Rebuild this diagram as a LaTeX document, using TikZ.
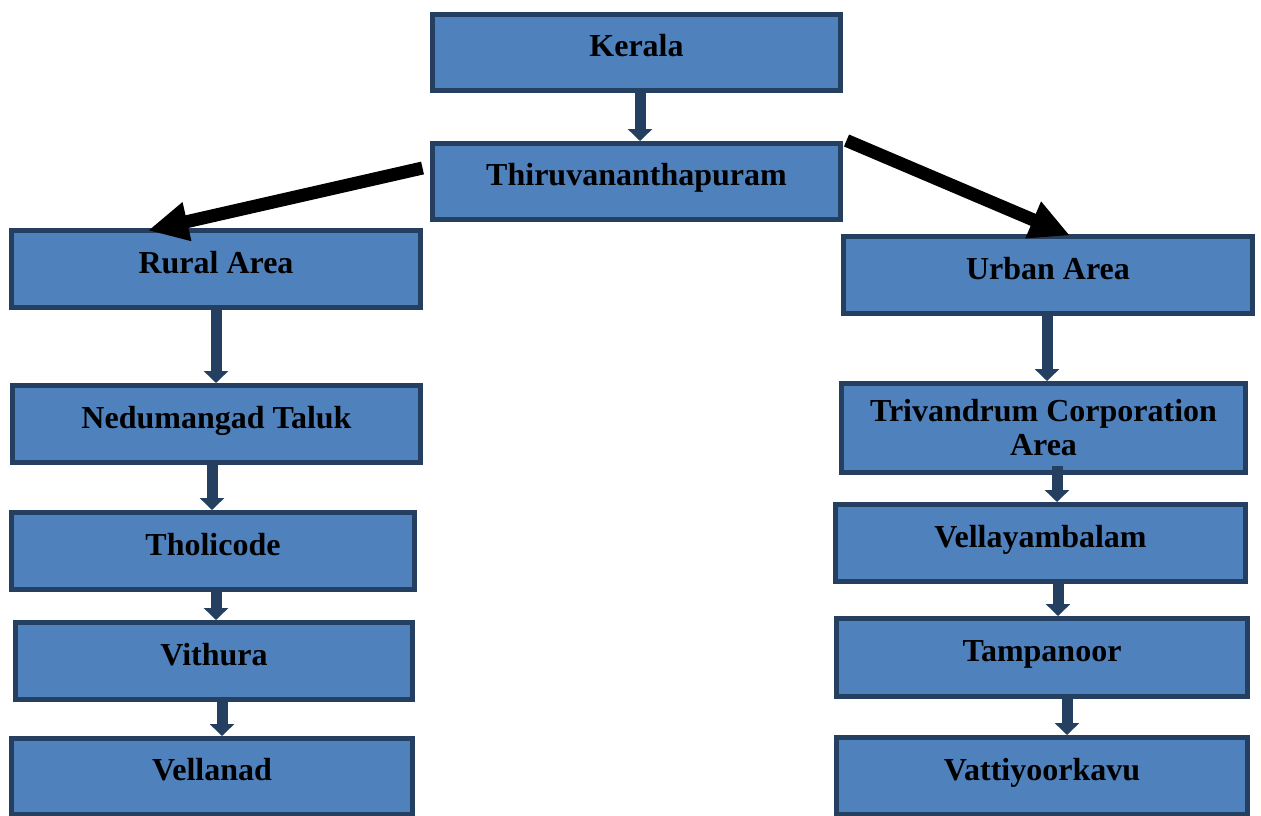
\documentclass[tikz,border=0pt]{standalone}
\usepackage{fontspec}
\setmainfont{Liberation Serif}
\usetikzlibrary{arrows.meta,calc}
\definecolor{boxfill}{HTML}{4F81BD}
\definecolor{boxline}{HTML}{243F60}
\tikzset{
  box/.style={draw=boxline, fill=boxfill, line width=2.5pt, rectangle, inner sep=0pt,
    font=\fontsize{16}{17}\selectfont\bfseries, text=black,
    text height=11pt, text depth=7pt},
  box2/.style={draw=boxline, fill=boxfill, line width=2.5pt, rectangle, inner sep=0pt,
    font=\fontsize{16}{17}\selectfont\bfseries, text=black, align=center},
  link/.style={draw=boxline, line width=5.5pt, -{Triangle[width=12pt,length=6pt]}, color=boxline},
  bigarrow/.style={draw=black, line width=6.5pt, -{Triangle[width=18.5pt,length=20pt]}}
}
\begin{document}
\begin{tikzpicture}[x=0.5pt,y=-0.5pt]
\useasboundingbox (0,0) rectangle (1261,815);
% boxes
\node[box, minimum width=204pt, minimum height=38pt] (kerala) at (636.5,52.5) {Kerala};
\node[box, minimum width=204pt, minimum height=38pt] (thiru) at (636.5,181.5) {Thiruvananthapuram};
\node[box, minimum width=204.5pt, minimum height=38.5pt] (rural) at (216,269) {Rural Area};
\node[box, minimum width=204pt, minimum height=38.5pt] (ned) at (216.5,424) {Nedumangad Taluk};
\node[box, minimum width=201.5pt, minimum height=38.5pt] (tholi) at (213,551) {Tholicode};
\node[box, minimum width=198.5pt, minimum height=38.5pt] (vith) at (214,661) {Vithura};
\node[box, minimum width=200.5pt, minimum height=38pt] (vellanad) at (212,776.5) {Vellanad};
\node[box, minimum width=204.5pt, minimum height=38.5pt] (urban) at (1048,275) {Urban Area};
\node[box2, minimum width=202pt, minimum height=44.5pt] (triv) at (1043.5,428) {Trivandrum Corporation\\Area};
\node[box, minimum width=205pt, minimum height=38.5pt] (vella) at (1040.5,543) {Vellayambalam};
\node[box, minimum width=205.5pt, minimum height=39pt] (tamp) at (1042,657.5) {Tampanoor};
\node[box, minimum width=205.5pt, minimum height=38.5pt] (vatt) at (1042,776) {Vattiyoorkavu};
% vertical connectors
\draw[link] ($(kerala.south)+(3.5,0)$) -- ($(thiru.north)+(3.5,0)$);
\draw[link] (rural.south) -- ($(ned.north)+(-0.5,0)$);
\draw[link] ($(ned.south)+(-4.5,0)$) -- ($(tholi.north)+(-1,0)$);
\draw[link] ($(tholi.south)+(3,-4.5)$) -- ($(vith.north)+(2,0)$);
\draw[link] ($(vith.south)+(8,-2.5)$) -- ($(vellanad.north)+(10,0)$);
\draw[link] ($(urban.south)+(-1,0)$) -- ($(triv.north)+(3.5,0)$);
\draw[link] ($(triv.south)+(13.5,-9.5)$) -- ($(vella.north)+(16.5,0)$);
\draw[link] ($(vella.south)+(17.5,0)$) -- ($(tamp.north)+(16,0)$);
\draw[link] ($(tamp.south)+(25,0)$) -- ($(vatt.north)+(25,0)$);
% big black arrows
\draw[bigarrow] ($(thiru.west)+(-7.5,-13.5)$) -- ($(rural.north)+(-68,2.5)$);
\draw[bigarrow] ($(thiru.north east)+(3.5,-0.5)$) -- ($(urban.north)+(22,1.5)$);
\end{tikzpicture}
\end{document}
